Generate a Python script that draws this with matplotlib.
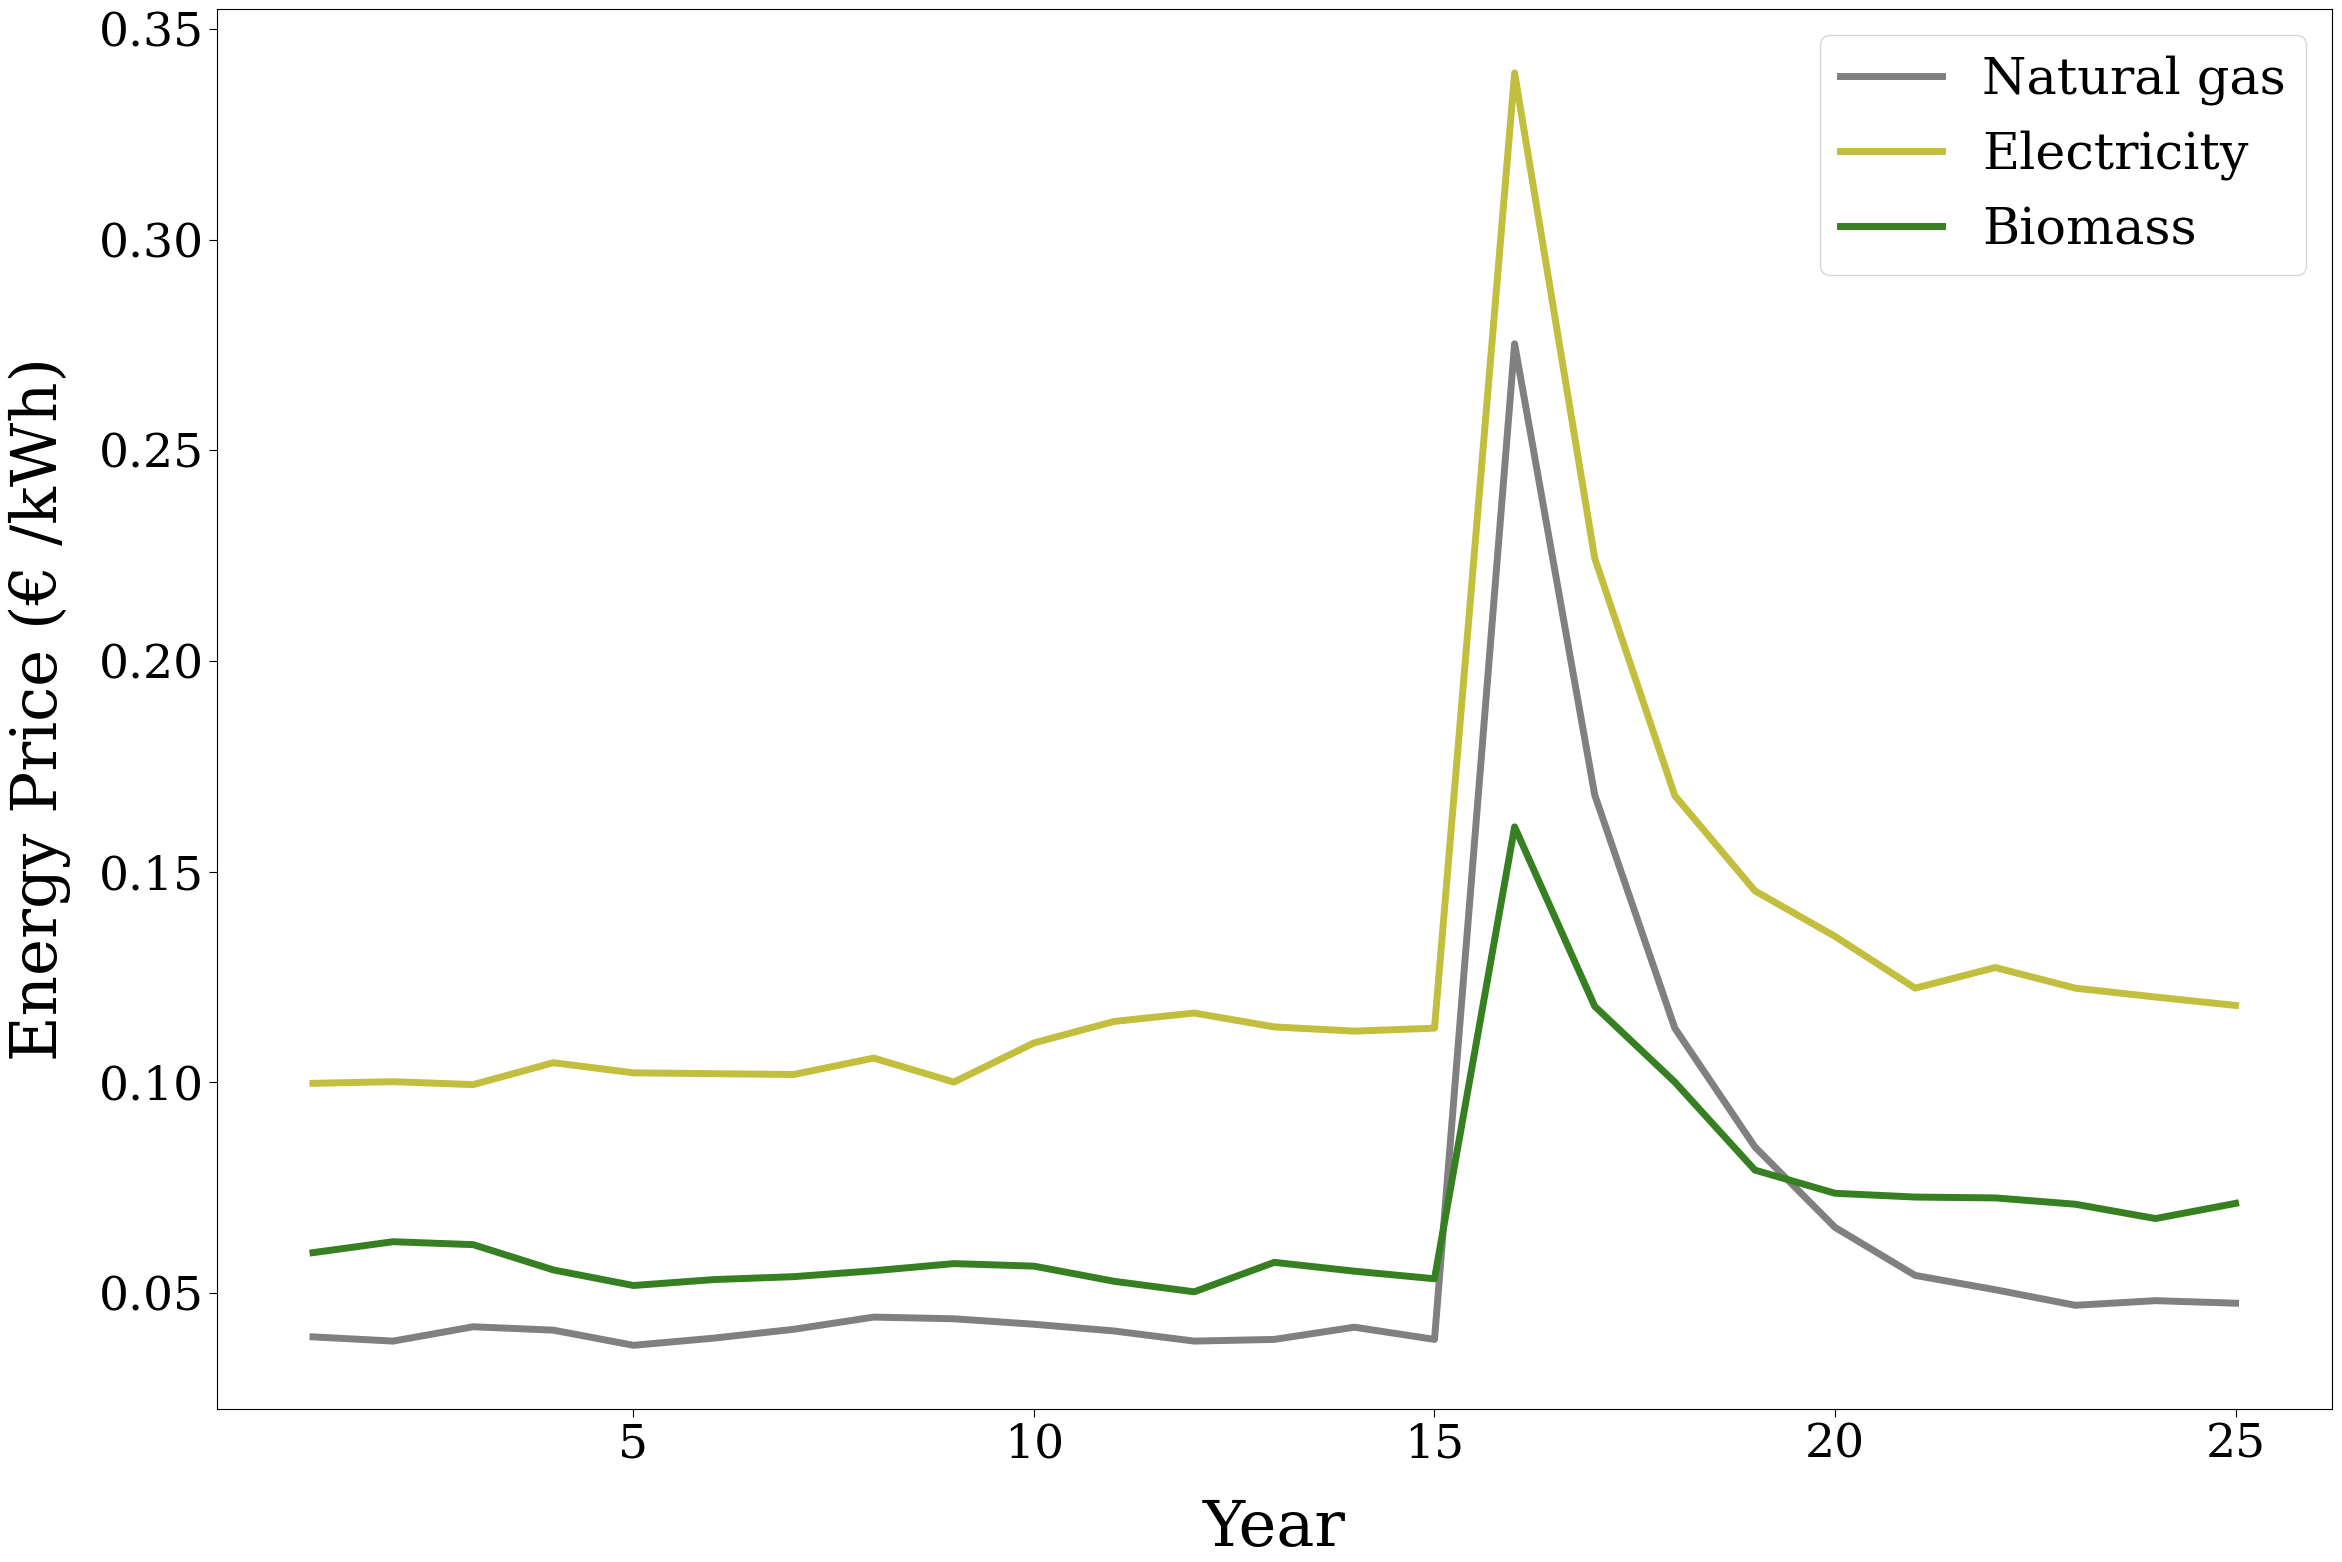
import matplotlib
matplotlib.use('Agg')
import matplotlib.pyplot as plt

plt.rcParams['font.family'] = ['DejaVu Serif']

# data
years = list(range(1, 26))
natural_gas = [0.0395, 0.0385, 0.0419, 0.0411, 0.0375, 0.0392, 0.0413, 0.0442, 0.0438, 0.0425,
               0.0409, 0.0385, 0.0389, 0.0418, 0.0389, 0.2753, 0.1682, 0.1128, 0.0846, 0.0655,
               0.0541, 0.0507, 0.0470, 0.0481, 0.0475]
electricity = [0.0997, 0.1001, 0.0994, 0.1046, 0.1022, 0.1020, 0.1018, 0.1057, 0.1000, 0.1093,
               0.1144, 0.1164, 0.1131, 0.1121, 0.1128, 0.3396, 0.2244, 0.1680, 0.1454, 0.1346,
               0.1223, 0.1272, 0.1223, 0.1202, 0.1182]
biomass = [0.0595, 0.0621, 0.0614, 0.0554, 0.0517, 0.0531, 0.0538, 0.0552, 0.0569, 0.0563,
           0.0527, 0.0502, 0.0572, 0.0551, 0.0533, 0.1606, 0.1180, 0.1000, 0.0791, 0.0736,
           0.0727, 0.0725, 0.0710, 0.0676, 0.0712]

fig = plt.figure(figsize=(23.42, 15.62), dpi=100)
ax = fig.add_axes([0.0926, 0.098, 0.903, 0.896])

ax.plot(years, natural_gas, color='#808080', lw=5, label='Natural gas')
ax.plot(years, electricity, color='#c1bf3d', lw=5, label='Electricity')
ax.plot(years, biomass, color='#368022', lw=5, label='Biomass')

ax.set_xticks([5, 10, 15, 20, 25])
ax.tick_params(labelsize=34, length=6)
ax.set_xlabel('Year', fontsize=46, labelpad=22)
ax.set_ylabel('Energy Price (€ /kWh)', fontsize=45, labelpad=20)
ax.legend(fontsize=36.5, loc='upper right')

plt.savefig('out.png', dpi=100)
